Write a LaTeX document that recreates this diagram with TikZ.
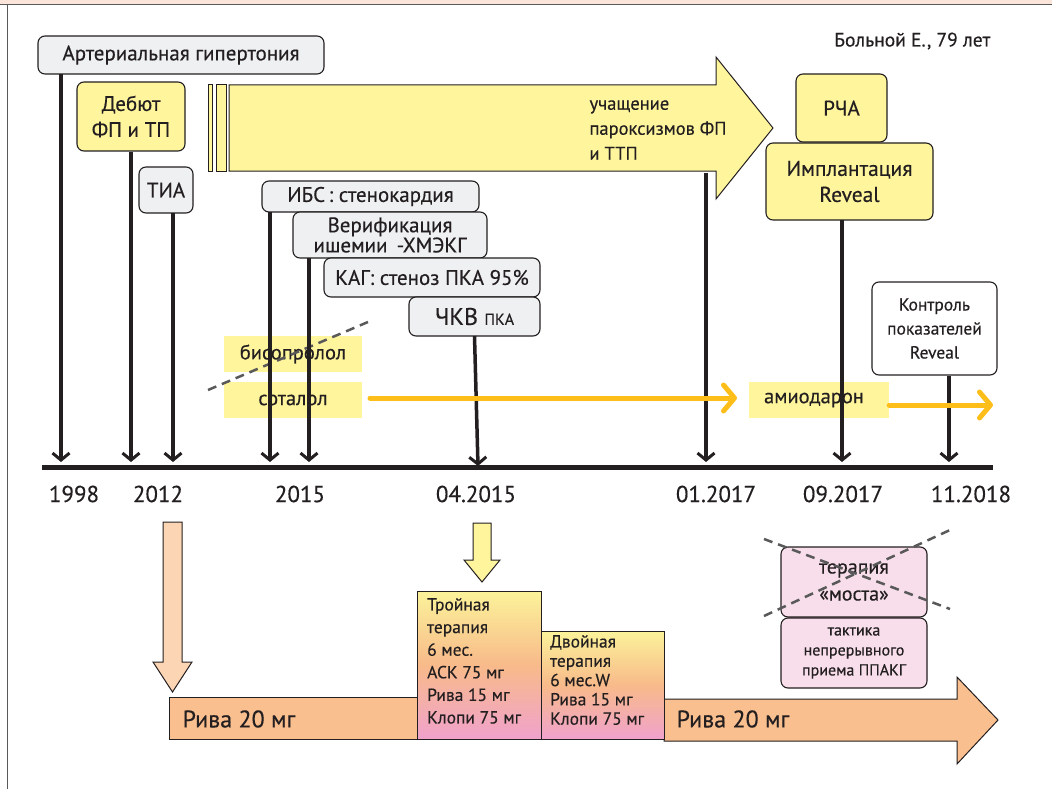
\documentclass[tikz,border=0pt]{standalone}
\usepackage{fontspec}
\setmainfont{PT Sans}[FakeBold=0.35]
\usetikzlibrary{arrows.meta,shapes.geometric}
\definecolor{boxgray}{HTML}{EFF0F2}
\definecolor{boxyel}{HTML}{FFF59D}
\definecolor{bandpink}{HTML}{FBE4DA}
\definecolor{peach}{HTML}{F9BF8F}
\definecolor{lightpeach}{HTML}{FCD5B4}
\definecolor{mostpink}{HTML}{F8DEEA}
\definecolor{amber}{HTML}{FDBE1A}
\definecolor{gradyel}{HTML}{FBF39A}
\definecolor{gradorg}{HTML}{F8BA8A}
\definecolor{gradpink}{HTML}{F0A2CC}
\definecolor{txt}{HTML}{231F20}
\tikzset{
  x=1pt, y=-1pt,
  every node/.style={text=txt},
  basebox/.style={draw=txt, line width=1.1pt, rounded corners=7pt, align=center, inner sep=0pt},
  gbox/.style={basebox, fill=boxgray},
  ybox/.style={basebox, fill=boxyel},
  wbox/.style={basebox, fill=white},
  pbox/.style={basebox, fill=mostpink},
  drug/.style={fill=boxyel, inner sep=0pt, align=center},
  tl/.style={line width=3.5pt, draw=txt, -{Straight Barb[length=7pt,width=17pt,line width=3pt]}},
  ol/.style={line width=5pt, draw=amber, line cap=round, -{Straight Barb[length=11pt,width=26pt,line width=5pt, round]}},
  xdash/.style={draw=black!65, line width=2.5pt, dash pattern=on 9pt off 6pt},
  date/.style={font=\fontsize{23}{26}\selectfont},
}
\begin{document}
\begin{tikzpicture}
\useasboundingbox (0,0) rectangle (1052,789);
% frame
\fill[bandpink] (0,0) rectangle (1052,4);
\draw[black!65, line width=1.2pt] (0,4.5) -- (1052,4.5);
\draw[black!65, line width=1.5pt] (7.5,4.5) -- (7.5,789);

% title
\node[font=\fontsize{19.5}{22}\selectfont, anchor=east] (title) at (994,41) {Больной Е., 79 лет};

% big yellow arrow with stripes
\filldraw[fill=boxyel, draw=txt, line width=1pt] (208,85) rectangle (212,171);
\filldraw[fill=boxyel, draw=txt, line width=1pt] (216,85) rectangle (226,171);
\filldraw[fill=boxyel, draw=txt, line width=1pt] (229,85) -- (716,85) -- (716,57) -- (773,128) -- (716,199) -- (716,171) -- (229,171) -- cycle;
\node[align=left, anchor=west, font=\fontsize{18.5}{25}\selectfont] (freq) at (586,130) {учащение\\пароксизмов ФП\\и ТТП};

% boxes
\node[gbox, minimum width=286, minimum height=38, font=\fontsize{21}{24}\selectfont] (art) at (181,55) {Артериальная гипертония};
\node[ybox, minimum width=108, minimum height=69, font=\fontsize{21}{26}\selectfont] (deb) at (131,116.5) {Дебют\\ФП и ТП};
\node[gbox, minimum width=54, minimum height=46, font=\fontsize{21}{24}\selectfont] (tia) at (166,190) {ТИА};
\node[gbox, minimum width=217, minimum height=31, font=\fontsize{21}{24}\selectfont] (ibs) at (370.5,196.5) {ИБС\,: стенокардия};
\node[gbox, minimum width=194, minimum height=46, font=\fontsize{21}{19}\selectfont] (ver) at (390,235) {Верификация\\ишемии \,-ХМЭКГ};
\node[gbox, minimum width=216, minimum height=39, font=\fontsize{21}{24}\selectfont] (kag) at (432,277.5) {КАГ: стеноз ПКА 95\%};
\node[gbox, minimum width=131, minimum height=39] (chkv) at (474.5,316.5) {\fontsize{24}{26}\selectfont ЧКВ \fontsize{16}{18}\selectfont ПКА};
\node[ybox, minimum width=91, minimum height=68, font=\fontsize{21}{24}\selectfont] (rcha) at (841.5,108) {РЧА};
\node[ybox, minimum width=167, minimum height=77, font=\fontsize{21.5}{26}\selectfont] (impl) at (849.5,181.5) {Имплантация\\Reveal};
\node[wbox, minimum width=125, minimum height=93, font=\fontsize{17.5}{24}\selectfont] (ctrl) at (934.5,328.5) {Контроль\\показателей\\Reveal};

% drugs
\node[drug, minimum width=138, minimum height=36, font=\fontsize{20.5}{24}\selectfont] (bis) at (293,354) {бисопролол};
\node[drug, minimum width=138, minimum height=36, font=\fontsize{20.5}{24}\selectfont] (sot) at (293,400) {соталол};
\node[drug, minimum width=140, minimum height=36] (amio) at (819,400) {};
\node[font=\fontsize{20.5}{24}\selectfont] (amiot) at (814,400) {амиодарон};
\coordinate (bisA) at (208,390);
\coordinate (bisB) at (368,322);
\draw[xdash] (bisA) -- (bisB);

% axis
\coordinate (axL) at (42,467);
\coordinate (axR) at (993,467);
\draw[line width=5pt, draw=txt] (axL) -- (axR);

% timeline arrows
\coordinate (t1998) at (61,462);
\coordinate (t2012a) at (131,462);
\coordinate (t2012b) at (173,462);
\coordinate (t2015a) at (270,462);
\coordinate (t2015b) at (309,462);
\coordinate (t0415) at (478,466);
\coordinate (t0117) at (706,462);
\coordinate (t0917) at (842,462);
\coordinate (t1118) at (949,462);
\coordinate (freqs) at (706,173);
\draw[tl] (61,74) -- (t1998);
\draw[tl] (deb.south) -- (t2012a);
\draw[tl] (173,213) -- (t2012b);
\draw[tl] (270,212) -- (t2015a);
\draw[tl] (309,258) -- (t2015b);
\draw[tl] (474.5,336) -- (t0415);
\draw[tl] (freqs) -- (t0117);
\draw[tl] (842,220) -- (t0917);
\draw[tl] (ctrl.south -| t1118) -- (t1118);

% orange arrows
\coordinate (sotEnd) at (737,398);
\coordinate (amioEnd) at (993,405);
\draw[ol] (370,398) -- (sotEnd);
\draw[ol] (amio.east |- amioEnd) -- (amioEnd);

% dates
\node[date] (d1) at (74,494) {1998};
\node[date] (d2) at (158,494) {2012};
\node[date] (d3) at (300,494) {2015};
\node[date] (d4) at (476,494) {04.2015};
\node[date] (d5) at (716,494) {01.2017};
\node[date] (d6) at (843,494) {09.2017};
\node[date] (d7) at (971,494) {11.2018};

% down arrows
\filldraw[fill=lightpeach, draw=txt, line width=1pt] (163,522) -- (182,522) -- (182,662) -- (192,662) -- (172.5,692) -- (153,662) -- (163,662) -- cycle;
\filldraw[fill=boxyel, draw=txt, line width=1pt] (473,523) -- (491,523) -- (491,560) -- (500,560) -- (482,582) -- (464,560) -- (473,560) -- cycle;

% bottom bars
\filldraw[fill=peach, draw=txt, line width=1pt] (169,697) rectangle (417,739);
\node[anchor=west, font=\fontsize{24}{26}\selectfont] (riva1) at (179,719) {Рива 20 мг};
\filldraw[fill=peach, draw=txt, line width=1pt] (664,699) -- (957,699) -- (957,677) -- (998,720) -- (957,764) -- (957,741) -- (664,741) -- cycle;
\node[anchor=west, font=\fontsize{24}{26}\selectfont] (riva2) at (673,719) {Рива 20 мг};

\shade[top color=gradyel, bottom color=gradpink, middle color=gradorg] (417,591) rectangle (541,739);
\draw[draw=txt, line width=1pt] (417,591) rectangle (541,739);
\node[anchor=north west, align=left, font=\fontsize{17.5}{22.6}\selectfont, inner sep=0pt] (tri) at (427,598) {Тройная\\терапия\\6 мес.\\АСК 75 мг\\Рива 15 мг\\Клопи 75 мг};
\shade[top color=gradyel, bottom color=gradpink, middle color=gradorg] (541,631) rectangle (664,739);
\draw[draw=txt, line width=1pt] (541,631) rectangle (664,739);
\node[anchor=north west, align=left, font=\fontsize{17.5}{19.3}\selectfont, inner sep=0pt] (dua) at (550,635) {Двойная\\терапия\\6 мес.W\\Рива 15 мг\\Клопи 75 мг};

% bridge therapy
\node[pbox, minimum width=146, minimum height=70, font=\fontsize{20}{27}\selectfont] (most) at (854,582) {терапия\\«моста»};
\node[pbox, minimum width=146, minimum height=70, font=\fontsize{16}{20}\selectfont] (takt) at (854,653) {тактика\\непрерывного\\приема ППАКГ};
\coordinate (xa) at (764,539);
\coordinate (xb) at (950,609);
\coordinate (xc) at (764,616);
\coordinate (xd) at (950,530);
\draw[xdash] (xa) -- (xb);
\draw[xdash] (xc) -- (xd);
\end{tikzpicture}
\end{document}
